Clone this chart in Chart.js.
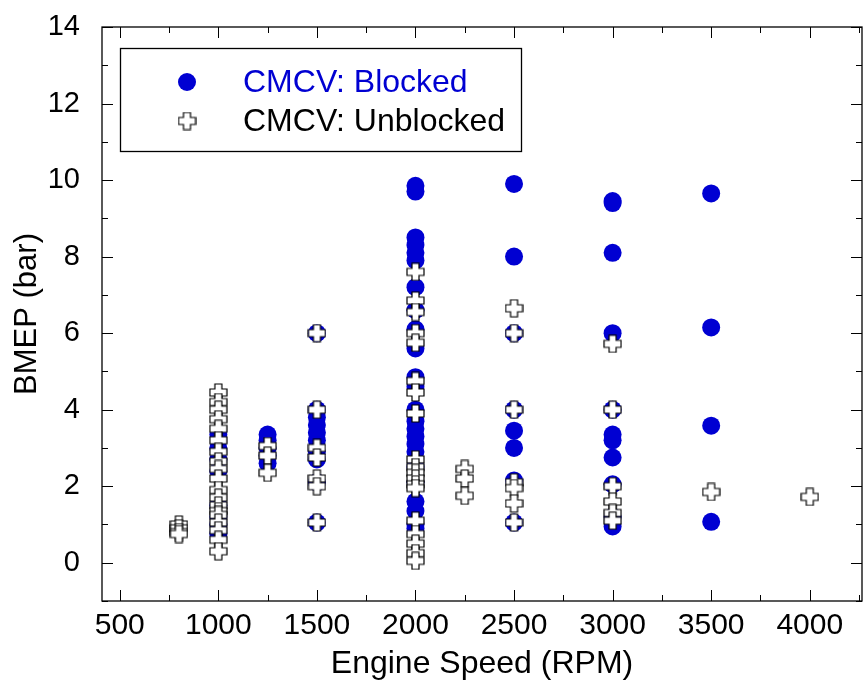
<!DOCTYPE html>
<html>
<head>
<meta charset="utf-8">
<script src="https://cdn.jsdelivr.net/npm/chart.js@4"></script>
<style>
html,body{margin:0;padding:0;background:#fff;}
#wrap{width:863px;height:687px;position:relative;}
</style>
</head>
<body>
<div id="wrap"><canvas id="c" width="863" height="687"></canvas></div>
<script>
// ---- data ----
const xTickValues = [500, 1000, 1500, 2000, 2500, 3000, 3500, 4000];
const yTickValues = [0, 2, 4, 6, 8, 10, 12, 14];
const seriesNames = ["CMCV: Blocked", "CMCV: Unblocked"];

const blockedRPM = [
  1000,1000,1000,1000,1000,1000,1000,1000,
  1250,1250,1250,1250,1250,
  1500,1500,1500,1500,1500,1500,1500,1500,1500,1500,
  2000,2000,2000,2000,2000,2000,2000,2000,2000,2000,2000,2000,2000,2000,2000,2000,2000,2000,2000,2000,2000,2000,2000,2000,
  2500,2500,2500,2500,2500,2500,2500,2500,
  3000,3000,3000,3000,3000,3000,3000,3000,3000,3000,3000,
  3500,3500,3500,3500
];
const blockedBMEP = [
  3.35,3.0,2.7,2.4,1.5,1.2,1.0,0.75,
  3.35,3.2,3.0,2.8,2.6,
  6.0,4.0,3.8,3.6,3.4,3.2,2.9,2.7,2.1,1.05,
  9.85,9.7,8.5,8.3,8.1,7.9,7.2,6.6,6.1,5.6,4.85,4.6,4.0,3.7,3.5,3.3,3.1,2.9,2.5,2.1,1.6,1.35,1.0,0.9,
  9.9,8.0,6.0,4.0,3.45,3.0,2.15,1.05,
  9.45,9.4,8.1,6.0,4.0,3.35,3.2,2.75,2.05,1.2,0.95,
  9.65,6.15,3.58,1.07
];

const unblockedRPM = [
  800,800,800,800,
  1000,1000,1000,1000,1000,1000,1000,1000,1000,1000,1000,1000,1000,1000,1000,1000,1000,1000,1000,
  1250,1250,1250,
  1500,1500,1500,1500,1500,1500,1500,
  2000,2000,2000,2000,2000,2000,2000,2000,2000,2000,2000,2000,2000,2000,2000,2000,2000,2000,2000,
  2250,2250,2250,
  2500,2500,2500,2500,2500,2500,2500,
  3000,3000,3000,3000,3000,3000,
  3500,
  4000
];
const unblockedBMEP = [
  1.0,0.9,0.8,0.75,
  4.45,4.2,4.0,3.75,3.5,3.2,2.9,2.65,2.45,2.2,1.9,1.7,1.5,1.35,1.25,1.05,0.85,0.6,0.3,
  3.05,2.8,2.35,
  6.0,4.0,3.0,2.75,2.2,2.0,1.05,
  7.6,6.85,6.55,6.0,5.75,4.75,4.45,3.9,2.7,2.5,2.35,2.2,2.05,1.95,1.1,0.75,0.5,0.25,0.05,
  2.45,2.2,1.75,
  6.65,6.0,4.0,2.1,1.95,1.55,1.05,
  5.72,4.0,2.0,1.6,1.3,1.1,
  1.85,
  1.72
];

const toPoints = (xs, ys) => xs.map((x, i) => ({x: x, y: ys[i]}));

// ---- styles ----
const BLUE = "#0000d2";
const FONT = "'Liberation Sans', Arial, Helvetica, sans-serif";

function makeCross() {
  const s = 19, c = document.createElement("canvas");
  c.width = s; c.height = s;
  const g = c.getContext("2d");
  const h = 8.5, a = 3.5, m = 9.5;
  g.beginPath();
  g.moveTo(m - a, m - h); g.lineTo(m + a, m - h); g.lineTo(m + a, m - a);
  g.lineTo(m + h, m - a); g.lineTo(m + h, m + a); g.lineTo(m + a, m + a);
  g.lineTo(m + a, m + h); g.lineTo(m - a, m + h); g.lineTo(m - a, m + a);
  g.lineTo(m - h, m + a); g.lineTo(m - h, m - a); g.lineTo(m - a, m - a);
  g.closePath();
  g.fillStyle = "#fff"; g.fill();
  g.strokeStyle = "#000"; g.lineWidth = 1.2; g.stroke();
  return c;
}
const crossImg = makeCross();

const framePlugin = {
  id: "frame",
  afterDatasetsDraw(chart) {
    const ctx = chart.ctx, a = chart.chartArea;
    const xs = chart.scales.x, ys = chart.scales.y;
    ctx.save();
    ctx.strokeStyle = "#000";
    ctx.lineWidth = 1.3;
    ctx.strokeRect(a.left, a.top, a.right - a.left, a.bottom - a.top);
    ctx.lineWidth = 1;
    ctx.beginPath();
    for (let v = 500; v <= 4250; v += 250) {
      const px = Math.round(xs.getPixelForValue(v)) + 0.5;
      if (px < a.left || px > a.right) continue;
      const L = (v % 500 === 0) ? 11 : 6;
      ctx.moveTo(px, a.bottom); ctx.lineTo(px, a.bottom - L);
      ctx.moveTo(px, a.top); ctx.lineTo(px, a.top + L);
    }
    for (let v = -1; v <= 14; v += 1) {
      const py = Math.round(ys.getPixelForValue(v)) + 0.5;
      const L = (v % 2 === 0) ? 11 : 6;
      ctx.moveTo(a.left, py); ctx.lineTo(a.left + L, py);
      ctx.moveTo(a.right, py); ctx.lineTo(a.right - L, py);
    }
    ctx.stroke();

    // legend box
    const bx = 120, by = 48, bw = 401, bh = 103;
    ctx.fillStyle = "#fff";
    ctx.fillRect(bx, by, bw, bh);
    ctx.lineWidth = 1.3;
    ctx.strokeRect(bx + 0.5, by + 0.5, bw, bh);
    ctx.beginPath();
    ctx.fillStyle = BLUE;
    ctx.arc(187, 82, 9, 0, Math.PI * 2);
    ctx.fill();
    ctx.drawImage(crossImg, 187 - 9.5, 121 - 9.5);
    ctx.font = "32px " + FONT;
    ctx.textBaseline = "middle";
    ctx.textAlign = "left";
    ctx.fillStyle = BLUE;
    ctx.fillText(seriesNames[0], 243, 83);
    ctx.fillStyle = "#000";
    ctx.fillText(seriesNames[1], 243, 122);
    ctx.restore();
  }
};

new Chart(document.getElementById("c"), {
  type: "scatter",
  data: {
    datasets: [
      {
        label: seriesNames[0],
        data: toPoints(blockedRPM, blockedBMEP),
        pointStyle: "circle",
        pointRadius: 9,
        pointHoverRadius: 9,
        backgroundColor: BLUE,
        borderWidth: 0,
        order: 2
      },
      {
        label: seriesNames[1],
        data: toPoints(unblockedRPM, unblockedBMEP),
        pointStyle: crossImg,
        pointRadius: 9,
        pointHoverRadius: 9,
        order: 1
      }
    ]
  },
  options: {
    responsive: false,
    animation: false,
    events: [],
    layout: { autoPadding: false, padding: { top: 27, right: 1, left: 0, bottom: 0 } },
    plugins: { legend: { display: false }, tooltip: { enabled: false } },
    scales: {
      x: {
        type: "linear",
        min: 410, max: 4265,
        afterBuildTicks: s => { s.ticks = xTickValues.map(v => ({ value: v })); },
        afterFit: s => { s.height = 86; s.paddingLeft = 0; s.paddingRight = 0; },
        grid: { display: false, drawTicks: false },
        border: { display: false },
        ticks: { color: "#000", font: { family: FONT, size: 30 }, padding: 7, maxRotation: 0, autoSkip: false,
                 callback: v => String(v) },
        title: { display: true, text: "Engine Speed (RPM)", color: "#000", font: { family: FONT, size: 32 }, padding: { top: 0, bottom: 4 } }
      },
      y: {
        type: "linear",
        min: -1, max: 14,
        afterBuildTicks: s => { s.ticks = yTickValues.map(v => ({ value: v })); },
        afterFit: s => { s.width = 102; s.paddingTop = 0; s.paddingBottom = 0; },
        grid: { display: false, drawTicks: false },
        border: { display: false },
        ticks: { color: "#000", font: { family: FONT, size: 29 }, padding: 22, callback: v => String(v) },
        title: { display: true, text: "BMEP (bar)", color: "#000", font: { family: FONT, size: 31 }, padding: { top: 9, bottom: 0 } }
      }
    }
  },
  plugins: [framePlugin]
});
</script>
</body>
</html>
